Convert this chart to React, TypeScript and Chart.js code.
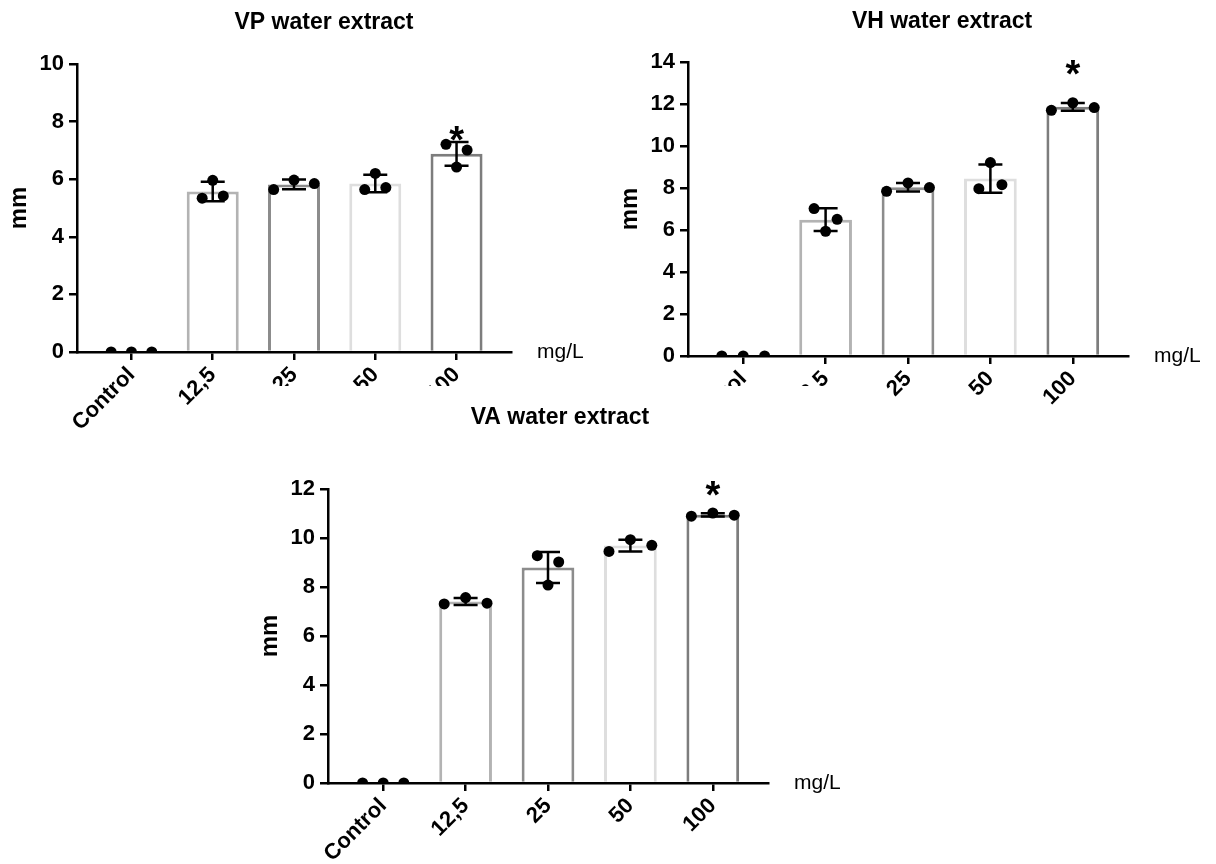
import React, { useEffect, useRef } from 'react';
import { Chart, registerables } from 'chart.js';

Chart.register(...registerables);

// ---------- data ----------
const CATEGORIES = ['Control', '12,5', '25', '50', '100'];
const UNIT_LABEL = 'mg/L';
const Y_LABEL = 'mm';

const VP_TITLE = 'VP water extract';
const VP_REP_A = [0, 5.34, 5.64, 5.64, 7.21];
const VP_REP_B = [0, 5.96, 5.97, 6.2, 6.42];
const VP_REP_C = [0, 5.42, 5.85, 5.71, 7.01];
const VP_STAR = [null, null, null, null, 7.59];
const VP_Y_MAX = 10;

const VH_TITLE = 'VH water extract';
const VH_REP_A = [0, 7.02, 7.84, 7.97, 11.7];
const VH_REP_B = [0, 5.94, 8.24, 9.21, 12.06];
const VH_REP_C = [0, 6.51, 8.02, 8.16, 11.83];
const VH_STAR = [null, null, null, null, 13.76];
const VH_Y_MAX = 14;

const VA_TITLE = 'VA water extract';
const VA_REP_A = [0, 7.31, 9.28, 9.45, 10.89];
const VA_REP_B = [0, 7.57, 8.08, 9.93, 11.02];
const VA_REP_C = [0, 7.34, 9.02, 9.7, 10.93];
const VA_STAR = [null, null, null, null, 12.04];
const VA_Y_MAX = 12;

const Y_STEP = 2;

// ---------- style ----------
const BAR_COLORS = ['rgba(0,0,0,0)', '#b3b3b3', '#8c8c8c', '#dedede', '#7d7d7d'];
const JITTER_SIDE = [-1, 0, 1];
const VP_SPREAD = [0.25, 0.13, 0.25, 0.13, 0.13];
const VH_SPREAD = [0.26, 0.14, 0.26, 0.14, 0.26];
const VA_SPREAD = [0.25, 0.26, 0.13, 0.26, 0.26];

const FONT = '"Liberation Sans", Arial, Helvetica, sans-serif';
const W = 1216;
const H = 864;
const Y_W = 60;
const X_H = 80;
const CAP = 12;

type Frame = { l: number; t: number; r: number; b: number; tx: number; ty: number };
type Box = { x: number; y: number; w: number; h: number; bg: string };

const PANELS = [
  { key: 'vp', title: VP_TITLE, reps: [VP_REP_A, VP_REP_B, VP_REP_C], spread: VP_SPREAD, star: VP_STAR, yMax: VP_Y_MAX,
    box: { x: 0, y: 0, w: W, h: H, bg: 'transparent' },
    frame: { l: 77, t: 64, r: 511, b: 352, tx: 324, ty: 23 } },
  { key: 'vh', title: VH_TITLE, reps: [VH_REP_A, VH_REP_B, VH_REP_C], spread: VH_SPREAD, star: VH_STAR, yMax: VH_Y_MAX,
    box: { x: 0, y: 0, w: W, h: H, bg: 'transparent' },
    frame: { l: 688, t: 62, r: 1128, b: 356, tx: 942, ty: 22 } },
  { key: 'va', title: VA_TITLE, reps: [VA_REP_A, VA_REP_B, VA_REP_C], spread: VA_SPREAD, star: VA_STAR, yMax: VA_Y_MAX,
    box: { x: 252, y: 386, w: 606, h: 478, bg: '#ffffff' },
    frame: { l: 328, t: 489, r: 768, b: 783, tx: 560, ty: 418 } },
];

function Panel(props: { title: string; reps: number[][]; spread: number[]; star: (number | null)[]; yMax: number; frame: Frame; box: Box }) {
  const ref = useRef<HTMLCanvasElement>(null);
  const { box } = props;
  useEffect(() => {
    const { title, reps, spread, star, yMax, frame, box } = props;
    const f = {
      l: frame.l - box.x, r: frame.r - box.x, t: frame.t - box.y, b: frame.b - box.y,
      tx: frame.tx - box.x, ty: frame.ty - box.y,
    };
    const means = CATEGORIES.map((_, i) => reps.reduce((s, r) => s + r[i], 0) / reps.length);
    const sds = CATEGORIES.map((_, i) => {
      const m = means[i];
      const v = reps.reduce((s, r) => s + (r[i] - m) * (r[i] - m), 0) / (reps.length - 1);
      return Math.sqrt(v);
    });
    const points: { x: number; y: number }[] = [];
    reps.forEach((rep, k) => rep.forEach((v, i) => points.push({ x: i + JITTER_SIDE[k] * spread[i], y: v })));

    const overlay = {
      id: 'overlay',
      afterDatasetDraw(chart: any, args: any) {
        if (args.index !== 0) return;
        const { ctx } = chart;
        const x = chart.scales.x;
        const y = chart.scales.y;
        ctx.save();
        ctx.strokeStyle = '#000';
        ctx.lineWidth = 2.5;
        means.forEach((m, i) => {
          if (!(sds[i] > 0)) return;
          const px = x.getPixelForValue(i);
          const top = y.getPixelForValue(m + sds[i]);
          const bot = y.getPixelForValue(m - sds[i]);
          ctx.beginPath();
          ctx.moveTo(px, top);
          ctx.lineTo(px, bot);
          ctx.moveTo(px - CAP, top);
          ctx.lineTo(px + CAP, top);
          ctx.moveTo(px - CAP, bot);
          ctx.lineTo(px + CAP, bot);
          ctx.stroke();
        });
        ctx.restore();
      },
      afterDraw(chart: any) {
        const { ctx, chartArea } = chart;
        const x = chart.scales.x;
        const y = chart.scales.y;
        ctx.save();
        ctx.fillStyle = '#000';
        // title
        ctx.font = `bold 23px ${FONT}`;
        ctx.textAlign = 'center';
        ctx.textBaseline = 'middle';
        ctx.fillText(title, f.tx, f.ty);
        // unit
        ctx.font = `21px ${FONT}`;
        ctx.textAlign = 'left';
        ctx.textBaseline = 'alphabetic';
        ctx.fillText(UNIT_LABEL, chartArea.right + 26, chartArea.bottom + 5.5);
        // y label
        ctx.save();
        const fs = 24;
        ctx.font = `bold ${fs}px ${FONT}`;
        ctx.translate(chartArea.left - 57 + 0.26 * fs, (chartArea.top + chartArea.bottom) / 2);
        ctx.rotate(-Math.PI / 2);
        ctx.textAlign = 'center';
        ctx.textBaseline = 'alphabetic';
        ctx.fillText(Y_LABEL, 0, 0);
        ctx.restore();
        // stars
        ctx.font = `bold 38px ${FONT}`;
        ctx.textAlign = 'center';
        ctx.textBaseline = 'alphabetic';
        const mt = ctx.measureText('*');
        const shift = (mt.actualBoundingBoxAscent - mt.actualBoundingBoxDescent) / 2;
        star.forEach((s, i) => {
          if (s == null) return;
          ctx.fillText('*', x.getPixelForValue(i), y.getPixelForValue(s) + shift);
        });
        ctx.restore();
      },
    };

    const axisGrid = { display: true, offset: false, drawOnChartArea: false, drawTicks: true, tickLength: 8, color: '#000', lineWidth: 2.5 };
    const axisBorder = { display: true, color: '#000', width: 2.5 };

    const chart = new Chart(ref.current as HTMLCanvasElement, {
      type: 'bar',
      data: {
        datasets: [
          {
            type: 'bar',
            data: means.map((m, i) => ({ x: i, y: m })),
            backgroundColor: '#ffffff',
            borderColor: BAR_COLORS,
            borderWidth: 3,
            barPercentage: 0.64,
            categoryPercentage: 1,
            order: 2,
          } as any,
          {
            type: 'scatter',
            data: points,
            pointRadius: 5.5,
            pointBackgroundColor: '#000',
            pointBorderWidth: 0,
            backgroundColor: '#000',
            borderWidth: 0,
            order: 1,
          } as any,
        ],
      },
      options: {
        responsive: false,
        animation: false,
        events: [],
        layout: {
          padding: { left: f.l - Y_W, top: f.t, right: box.w - f.r, bottom: Math.max(box.h - f.b - X_H, 0) },
        },
        plugins: { legend: { display: false }, tooltip: { enabled: false }, title: { display: false } },
        scales: {
          x: {
            type: 'linear',
            min: -0.67,
            max: 4.67,
            offset: false,
            afterBuildTicks: (s: any) => {
              s.ticks = CATEGORIES.map((_, i) => ({ value: i }));
            },
            afterFit: (s: any) => {
              s.height = X_H;
            },
            ticks: {
              autoSkip: false,
              minRotation: 45,
              maxRotation: 45,
              padding: 2,
              color: '#000',
              font: { family: FONT, size: 22, weight: 'bold' },
              callback: (v: any) => CATEGORIES[v as number],
            },
            grid: axisGrid,
            border: axisBorder,
          } as any,
          y: {
            type: 'linear',
            min: 0,
            max: yMax,
            afterFit: (s: any) => {
              s.width = Y_W;
            },
            ticks: {
              stepSize: Y_STEP,
              padding: 5,
              color: '#000',
              font: { family: FONT, size: 22, weight: 'bold' },
            },
            grid: axisGrid,
            border: axisBorder,
          } as any,
        },
      },
      plugins: [overlay],
    });
    return () => chart.destroy();
  }, []);
  return (
    <canvas
      ref={ref}
      width={box.w}
      height={box.h}
      style={{ position: 'absolute', left: box.x, top: box.y, width: box.w, height: box.h, background: box.bg }}
    />
  );
}

export default function App() {
  return (
    <div style={{ position: 'absolute', left: 0, top: 0, width: W, height: H, background: '#ffffff', overflow: 'hidden' }}>
      {PANELS.map((p) => (
        <Panel key={p.key} title={p.title} reps={p.reps} spread={p.spread} star={p.star} yMax={p.yMax} frame={p.frame} box={p.box} />
      ))}
    </div>
  );
}
